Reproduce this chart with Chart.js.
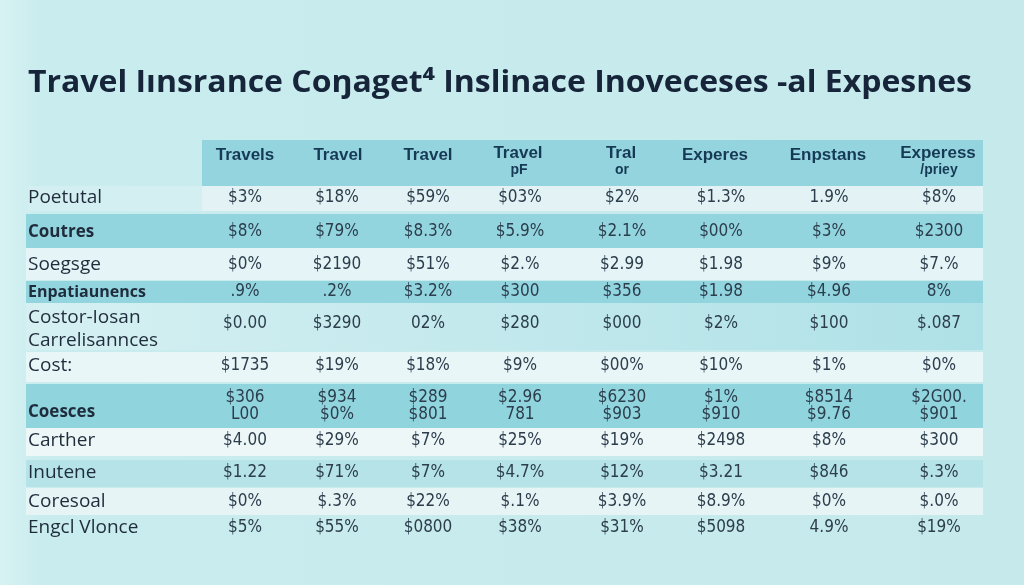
<!DOCTYPE html>
<html><head><meta charset="utf-8">
<script src="https://cdn.jsdelivr.net/npm/chart.js@4.4.1/dist/chart.umd.min.js"></script>
<style>html,body{margin:0;padding:0;background:#c9ebee;overflow:hidden}canvas{display:block}</style>
</head><body><canvas id="c" width="1024" height="585"></canvas>
<script>
// ---- content ----
const titleText = "Travel Iınsrance Coŋaget⁴ Inslinace Inoveceses -al Expesnes";
const headers = [["Travels"],["Travel"],["Travel"],["Travel","pF"],["Tral","or"],["Experes"],["Enpstans"],["Experess","/priey"]];
const rowLabels = [["Poetutal"],["Coutres"],["Soegsge"],["Enpatiaunencs"],["Costor-Iosan","Carrelisannces"],["Cost:"],["Coesces"],["Carther"],["Inutene"],["Coresoal"],["Engcl Vlonce"]];
const boldRows = [false,true,false,true,false,false,true,false,false,false,false];
const values = [
  ["$3%","$18%","$59%","$03%","$2%","$1.3%","1.9%","$8%"],
  ["$8%","$79%","$8.3%","$5.9%","$2.1%","$00%","$3%","$2300"],
  ["$0%","$2190","$51%","$2.%","$2.99","$1.98","$9%","$7.%"],
  [".9%",".2%","$3.2%","$300","$356","$1.98","$4.96","8%"],
  ["$0.00","$3290","02%","$280","$000","$2%","$100","$.087"],
  ["$1735","$19%","$18%","$9%","$00%","$10%","$1%","$0%"],
  ["$306\nL00","$934\n$0%","$289\n$801","$2.96\n781","$6230\n$903","$1%\n$910","$8514\n$9.76","$2G00.\n$901"],
  ["$4.00","$29%","$7%","$25%","$19%","$2498","$8%","$300"],
  ["$1.22","$71%","$7%","$4.7%","$12%","$3.21","$846","$.3%"],
  ["$0%","$.3%","$22%","$.1%","$3.9%","$8.9%","$0%","$.0%"],
  ["$5%","$55%","$0800","$38%","$31%","$5098","4.9%","$19%"]
];

// ---- layout (design units on the hidden linear axes) ----
const colX = [245,337,428,520,622,721,829,939];
const headX = [245,338,428,518,621,715,828,938];
const rowY = [198,232,265,292,324,366,406,441,473,502,528];
const labelY = [[198],[232],[265],[292],[318,341],[366],[412],[441],[473],[502],[528]];
const bands = [
  {x0:28,x1:202,y0:186,y1:211,c:'#d4eff1'},
  {x0:202,x1:983,y0:186,y1:211,c:'#e3f3f5'},
  {x0:26,x1:983,y0:214,y1:248,c:'#93d5df'},
  {x0:26,x1:983,y0:248,y1:280,c:'#e5f4f6'},
  {x0:26,x1:983,y0:281,y1:303,c:'#92d5df'},
  {x0:26,x1:983,y0:303,y1:350,c:['#d6f0f2','#aee1e7']},
  {x0:26,x1:983,y0:352,y1:382,c:'#e9f6f7'},
  {x0:26,x1:983,y0:384,y1:428,c:'#90d4de'},
  {x0:26,x1:983,y0:428,y1:456,c:'#edf7f8'},
  {x0:26,x1:983,y0:460,y1:487,c:'#b5e3e8'},
  {x0:26,x1:983,y0:488,y1:515,c:'#e6f4f5'},
  {x0:202,x1:983,y0:140,y1:186,c:'#93d4de'}
];

const points = [];
values.forEach((row,i)=>row.forEach((t,j)=>points.push({x:colX[j],y:rowY[i],t})));

const tablePlugin = {
  id:'table',
  beforeDatasetsDraw(chart){
    const {ctx, scales:{x,y}} = chart;
    const X = v=>x.getPixelForValue(v), Y = v=>y.getPixelForValue(v);
    ctx.save();
    // background
    const g = ctx.createLinearGradient(X(0),0,X(1024),0);
    g.addColorStop(0,'#d8f2f2'); g.addColorStop(0.04,'#c9ecee'); g.addColorStop(1,'#c6eaec');
    ctx.fillStyle = g; ctx.fillRect(X(0),Y(0),X(1024)-X(0),Y(585)-Y(0));
    // bands
    bands.forEach(b=>{
      let fill = b.c;
      if (Array.isArray(b.c)) { const gg = ctx.createLinearGradient(X(b.x0),0,X(b.x1),0); gg.addColorStop(0,b.c[0]); gg.addColorStop(1,b.c[1]); fill = gg; }
      ctx.fillStyle = fill;
      ctx.fillRect(X(b.x0),Y(b.y0),X(b.x1)-X(b.x0),Y(b.y1)-Y(b.y0));
    });
    // title
    ctx.fillStyle = '#16253a';
    ctx.font = 'bold 30px "Open Sans", "DejaVu Sans", sans-serif';
    ctx.textBaseline = 'alphabetic'; ctx.textAlign = 'left';
    const w = ctx.measureText(titleText).width;
    const target = X(972)-X(28);
    ctx.save(); ctx.translate(X(28),Y(92)); ctx.scale(target/w,1); ctx.fillText(titleText,0,0); ctx.restore();
    // headers
    ctx.textAlign='center'; ctx.textBaseline='middle'; ctx.fillStyle='#163a55';
    headers.forEach((h,j)=>{
      if (h.length===1){ ctx.font='bold 17px "Liberation Sans", Arial, sans-serif'; ctx.fillText(h[0],X(headX[j]),Y(155)); }
      else { ctx.font='bold 17px "Liberation Sans", Arial, sans-serif'; ctx.fillText(h[0],X(headX[j]),Y(153));
             ctx.font='bold 14px "Liberation Sans", Arial, sans-serif'; ctx.fillText(h[1],X(headX[j]+1),Y(170)); }
    });
    // row labels
    ctx.textAlign='left'; ctx.fillStyle='#1f2c3b';
    rowLabels.forEach((l,i)=>{
      ctx.font = boldRows[i] ? (i===3?'bold 16px "Open Sans", sans-serif':'bold 17px "Open Sans", sans-serif') : '19px "Open Sans", sans-serif';
      l.forEach((s,k)=>ctx.fillText(s,X(28),Y(labelY[i][k])));
    });
    ctx.restore();
  },
  afterDatasetsDraw(chart){
    const {ctx} = chart;
    const meta = chart.getDatasetMeta(0);
    ctx.save();
    ctx.fillStyle='#2c3d4c'; ctx.textAlign='center'; ctx.textBaseline='middle';
    ctx.font='17px "Liberation Sans Narrow", "DejaVu Sans Condensed", sans-serif';
    meta.data.forEach((el,k)=>{
      const lines = points[k].t.split('\n');
      const n = lines.length;
      lines.forEach((s,li)=>ctx.fillText(s, el.x, el.y + (li-(n-1)/2)*17));
    });
    ctx.restore();
  }
};

new Chart(document.getElementById('c').getContext('2d'), {
  type:'scatter',
  data:{datasets:[{data:points, pointRadius:0, pointHoverRadius:0}]},
  options:{
    responsive:false, animation:false, devicePixelRatio:1, events:[],
    layout:{padding:0},
    plugins:{legend:{display:false}, tooltip:{enabled:false}, title:{display:false}},
    scales:{
      x:{type:'linear',min:0,max:1024,display:false},
      y:{type:'linear',min:0,max:585,reverse:true,display:false}
    }
  },
  plugins:[tablePlugin]
});
</script>
</body></html>
